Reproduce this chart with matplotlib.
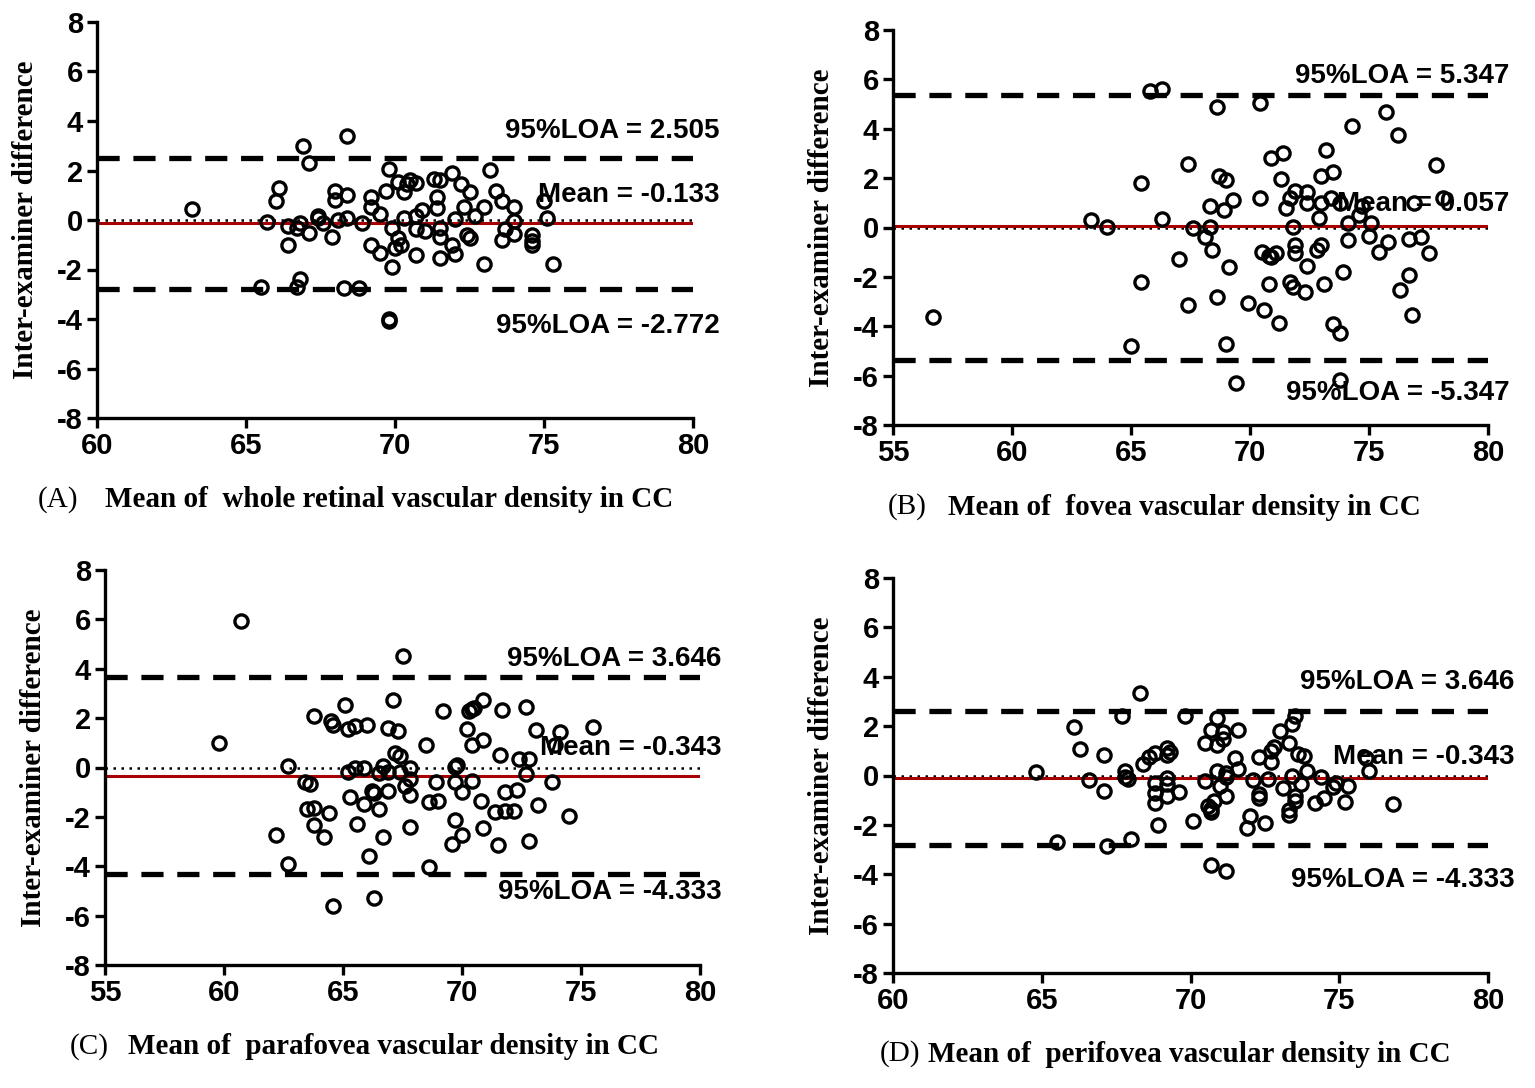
import numpy as np
import matplotlib
matplotlib.use("Agg")
import matplotlib.pyplot as plt

plt.rcParams['font.family'] = ['Liberation Sans', 'DejaVu Sans']
plt.rcParams['font.weight'] = 'bold'
plt.rcParams['axes.unicode_minus'] = False

# panel A: whole retinal
xa = [63.2, 65.7, 66.1, 66.0, 66.4, 66.4, 66.8, 66.9, 67.1, 67.1, 66.7, 65.5, 66.8, 66.7,
      67.4, 67.6, 67.9, 68.0, 68.0, 68.4, 68.1, 68.4, 68.4, 68.3, 68.8, 68.9, 69.2, 69.2,
      69.2, 69.5, 69.5, 69.7, 69.8, 69.8, 69.8, 69.9, 69.9, 70.0, 70.1, 70.1, 70.2, 70.3,
      70.3, 70.4, 70.5, 70.7, 70.7, 70.7, 70.7, 70.9, 71.0, 71.3, 71.5, 71.4, 71.4, 71.5,
      71.5, 71.5, 71.9, 72.0, 71.9, 72.0, 72.2, 72.3, 72.4, 72.5, 72.5, 72.7, 73.0, 73.0,
      73.2, 73.4, 73.6, 74.0, 74.0, 74.0, 73.6, 73.7, 74.6, 74.6, 74.6, 75.0, 75.1, 75.3,
      67.4]
ya = [0.44, -0.07, 1.30, 0.78, -1.03, -0.25, -0.11, 2.97, 2.29, -0.52, -0.32, -2.71, -2.37, -2.71,
      0.07, -0.11, -0.70, 1.19, 0.81, 0.99, -0.01, 0.10, 3.41, -2.75, -2.75, -0.11, 0.92, 0.51,
      -1.03, 0.23, -1.34, 1.19, 2.08, -4.01, -4.08, -1.89, -0.32, -1.14, -0.73, 1.53, -1.00, 0.07,
      1.12, 1.47, 1.60, -1.41, -0.38, 1.49, 0.16, 0.40, -0.45, 1.67, 1.60, 0.92, 0.48, -0.32,
      -1.55, -0.70, 1.88, 0.03, -1.00, -1.38, 1.47, 0.51, -0.59, -0.73, 1.12, 0.16, 0.51, -1.79,
      2.01, 1.19, 0.78, 0.51, -0.04, -0.56, -0.79, -0.38, -0.59, -0.84, -1.00, 0.78, 0.10, -1.79,
      0.16]

# panel B: fovea
xb = [56.7, 63.3, 64.0, 65.4, 65.4, 65.0, 65.8, 66.3, 66.3, 67.0, 67.4, 67.4, 67.6, 68.1,
      68.3, 68.3, 68.4, 68.6, 68.7, 69.0, 68.9, 69.3, 69.1, 68.6, 69.0, 69.4, 69.9, 70.4,
      70.4, 70.5, 70.6, 70.8, 70.9, 71.1, 70.8, 71.2, 70.9, 71.4, 71.3, 71.5, 71.7, 71.9,
      71.8, 71.9, 71.9, 71.7, 71.8, 72.3, 72.4, 72.4, 72.4, 72.8, 73.0, 72.9, 73.0, 73.2,
      73.1, 73.0, 73.5, 73.4, 73.5, 73.8, 73.8, 73.9, 73.8, 74.1, 74.1, 74.3, 74.6, 74.7,
      75.0, 75.1, 75.4, 75.8, 75.7, 76.2, 76.3, 76.7, 76.7, 76.8, 76.9, 77.2, 77.5, 77.8,
      78.1]
yb = [-3.64, 0.31, 0.04, 1.81, -2.21, -4.80, 5.53, 5.63, 0.34, -1.26, 2.56, -3.12, -0.03, -0.37,
      0.04, 0.89, -0.91, 4.88, 2.09, 1.92, 0.72, 1.11, -1.60, -2.82, -4.73, -6.30, -3.07, 1.20,
      5.06, -0.98, -3.34, -1.16, -1.19, -1.02, -2.28, -3.85, 2.80, 3.02, 1.98, 0.79, 1.20, 1.47,
      0.01, -0.71, -1.05, -2.21, -2.41, -2.62, -1.57, 1.00, 1.43, -0.91, -0.71, 0.38, 2.09, 3.15,
      -2.28, 1.00, 2.25, 1.20, -3.92, -4.26, -6.17, -1.80, 1.00, 0.18, -0.50, 4.11, 0.52, 0.86,
      -0.34, 0.20, -0.98, -0.57, 4.68, 3.75, -2.55, -1.94, -0.48, -3.53, 1.00, -0.40, -1.02, 2.52,
      1.20]

# panel C: parafovea
xc = [60.7, 59.8, 62.2, 62.7, 62.7, 63.4, 63.6, 63.8, 63.5, 63.8, 63.8, 64.2, 64.4, 64.5,
      64.6, 64.6, 65.1, 65.2, 65.2, 65.3, 65.5, 65.5, 65.6, 65.9, 65.9, 66.0, 66.1, 66.2,
      66.3, 66.3, 66.5, 66.5, 66.7, 66.7, 66.9, 66.9, 66.9, 67.1, 67.2, 67.3, 67.4, 67.4,
      67.5, 67.6, 67.8, 67.8, 67.8, 67.8, 68.5, 68.6, 68.6, 68.9, 69.0, 69.2, 69.7, 69.8,
      69.7, 69.7, 69.6, 70.0, 70.0, 70.2, 70.3, 70.4, 70.5, 70.4, 70.4, 70.9, 70.9, 70.8,
      70.9, 71.5, 71.4, 71.6, 71.7, 71.8, 71.8, 72.2, 72.3, 72.4, 72.7, 72.8, 72.7, 72.8,
      73.1, 73.2, 73.8, 73.9, 74.1, 74.5, 75.5]
yc = [5.93, 1.01, -2.74, 0.07, -3.89, -0.58, -0.65, 2.08, -1.69, -1.66, -2.31, -2.81, -1.86, 1.88,
      1.74, -5.61, 2.53, 1.55, -0.20, -1.19, 1.69, -0.01, -2.27, -0.04, -1.46, 1.74, -3.58, -0.96,
      -5.28, -1.05, -1.69, -0.24, 0.07, -2.81, -0.20, -0.96, 1.58, 2.73, 0.57, 1.47, -0.18, 0.47,
      4.53, -0.74, -2.41, -0.01, -0.45, -1.12, 0.91, -1.39, -4.03, -0.58, -1.36, 2.28, 0.03, 0.12,
      -0.58, -2.14, -3.08, -1.01, -2.72, 1.55, 2.28, 2.36, 2.42, 0.91, -0.55, 1.11, 2.73, -1.36,
      -2.45, -3.12, -1.82, 0.50, 2.32, -1.77, -1.01, -1.77, -0.92, 0.34, -0.28, 0.36, 2.46, -2.99,
      1.51, -1.50, -0.58, 0.91, 1.42, -1.96, 1.65]

# panel D: perifovea
xd = [64.8, 65.5, 66.1, 66.3, 66.6, 67.1, 67.1, 67.2, 67.7, 67.8, 67.8, 67.9, 68.0, 68.3,
      68.4, 68.6, 68.8, 68.8, 68.8, 68.8, 68.9, 69.2, 69.2, 69.3, 69.2, 69.2, 69.2, 69.6,
      69.8, 70.1, 70.5, 70.5, 70.6, 70.7, 70.7, 70.7, 70.8, 70.9, 70.9, 70.9, 71.1, 71.1,
      71.0, 71.2, 71.2, 71.2, 70.7, 71.2, 71.5, 71.6, 71.6, 72.0, 71.9, 72.1, 72.3, 72.3,
      72.3, 72.5, 72.6, 72.7, 72.7, 72.8, 73.0, 73.1, 73.3, 73.3, 73.3, 73.4, 73.4, 73.5,
      73.5, 73.5, 73.7, 73.6, 73.8, 73.9, 74.2, 74.4, 74.5, 74.8, 74.9, 75.2, 75.3, 75.9,
      76.0, 76.8]
yd = [0.14, -2.70, 1.97, 1.08, -0.19, 0.85, -0.64, -2.86, 2.41, -0.05, 0.18, -0.14, -2.57, 3.35,
      0.45, 0.76, 0.92, -0.30, -0.70, -1.11, -1.99, 1.12, 0.85, 0.95, -0.09, -0.36, -0.84, -0.68,
      2.43, -1.85, 1.30, -0.23, -1.22, -1.35, -1.49, 1.86, -1.04, 0.18, 2.34, 1.22, 1.46, 1.76,
      -0.43, 0.11, -0.84, -0.05, -3.61, -3.88, 0.72, 0.27, 1.84, -1.65, -2.12, -0.19, -0.73, -0.91,
      0.76, -1.92, -0.16, 0.54, 0.99, 1.16, 1.80, -0.50, -1.58, 1.30, -1.38, 2.07, 0.00, -1.04,
      -0.84, 2.41, -0.36, 0.89, 0.81, 0.18, -1.11, -0.05, -0.91, -0.46, -0.30, -1.08, -0.41, 0.72,
      0.18, -1.14]

# lines drawn (upper LOA, mean, lower LOA) and the printed labels
lines_a = [2.505, -0.133, -2.772]
lines_b = [5.347, 0.057, -5.347]
lines_c = [3.646, -0.343, -4.333]
lines_d = [2.62, -0.10, -2.80]
labels_a = ["95%LOA = 2.505", "Mean = -0.133", "95%LOA = -2.772"]
labels_b = ["95%LOA = 5.347", "Mean = 0.057", "95%LOA = -5.347"]
labels_c = ["95%LOA = 3.646", "Mean = -0.343", "95%LOA = -4.333"]
labels_d = ["95%LOA = 3.646", "Mean = -0.343", "95%LOA = -4.333"]
label_y_a = [3.6, 1.0, -4.3]
label_y_b = [6.15, 0.95, -6.7]
label_y_c = [4.4, 0.77, -5.05]
label_y_d = [3.8, 0.73, -4.25]

xlabels = ["Mean of  whole retinal vascular density in CC",
           "Mean of  fovea vascular density in CC",
           "Mean of  parafovea vascular density in CC",
           "Mean of  perifovea vascular density in CC"]
tags = ["(A)", "(B)", "(C)", "(D)"]

W, H = 1535, 1088
fig = plt.figure(figsize=(W / 100, H / 100), dpi=100)


def px_axes(x0, x1, ytop, ybot):
    return [x0 / W, 1 - ybot / H, (x1 - x0) / W, (ybot - ytop) / H]


def panel(rect, x, y, xlim, xticks, lines, labels, label_y, tag, xlabel, tagpos, labpos):
    ax = fig.add_axes(rect)
    ax.axhline(0, color='black', lw=1.8, ls=(0, (1, 2.2)), zorder=1)
    ax.axhline(lines[1], color='#a80000', lw=2.2, zorder=2)
    for v in (lines[0], lines[2]):
        ax.axhline(v, color='black', lw=3.8, ls=(0, (4.2, 2.6)), zorder=2)
    ax.plot(x, y, 'o', ms=9.5, mfc='none', mec='black', mew=2.4, zorder=3)
    xr = xlim[1] + 0.9
    for t, yy in zip(labels, label_y):
        ax.text(xr, yy, t, ha='right', va='center', fontsize=20, fontweight='bold',
                clip_on=False, zorder=4)
    ax.set_xlim(*xlim)
    ax.set_ylim(-8, 8)
    ax.set_xticks(xticks)
    ax.set_yticks(np.arange(-8, 9, 2))
    for s in ('top', 'right'):
        ax.spines[s].set_visible(False)
    for s in ('left', 'bottom'):
        ax.spines[s].set_linewidth(2.4)
    ax.tick_params(width=2.4, length=7, labelsize=21, pad=3)
    for lab in ax.get_xticklabels() + ax.get_yticklabels():
        lab.set_fontweight('bold')
    ax.set_ylabel("Inter-examiner difference", family='Liberation Serif',
                  fontweight='bold', fontsize=21)
    ax.yaxis.set_label_coords(-0.097, 0.5)
    fig.text(tagpos[0] / W, 1 - tagpos[1] / H, tag, family='Liberation Serif',
             fontweight='normal', fontsize=21, ha='left', va='center')
    fig.text(labpos[0] / W, 1 - labpos[1] / H, xlabel, family='Liberation Serif',
             fontweight='bold', fontsize=21, ha='left', va='center')
    return ax


panel(px_axes(97, 693, 22, 418), xa, ya, (60, 80), [60, 65, 70, 75, 80],
      lines_a, labels_a, label_y_a, tags[0], xlabels[0], (38, 500), (105, 500))
panel(px_axes(893, 1488, 30, 425), xb, yb, (55, 80), [55, 60, 65, 70, 75, 80],
      lines_b, labels_b, label_y_b, tags[1], xlabels[1], (888, 507), (948, 507))
panel(px_axes(105, 700, 570, 965), xc, yc, (55, 80), [55, 60, 65, 70, 75, 80],
      lines_c, labels_c, label_y_c, tags[2], xlabels[2], (70, 1047), (128, 1047))
panel(px_axes(893, 1488, 578, 973), xd, yd, (60, 80), [60, 65, 70, 75, 80],
      lines_d, labels_d, label_y_d, tags[3], xlabels[3], (880, 1054), (928, 1054))

fig.savefig("out.png", dpi=100)
